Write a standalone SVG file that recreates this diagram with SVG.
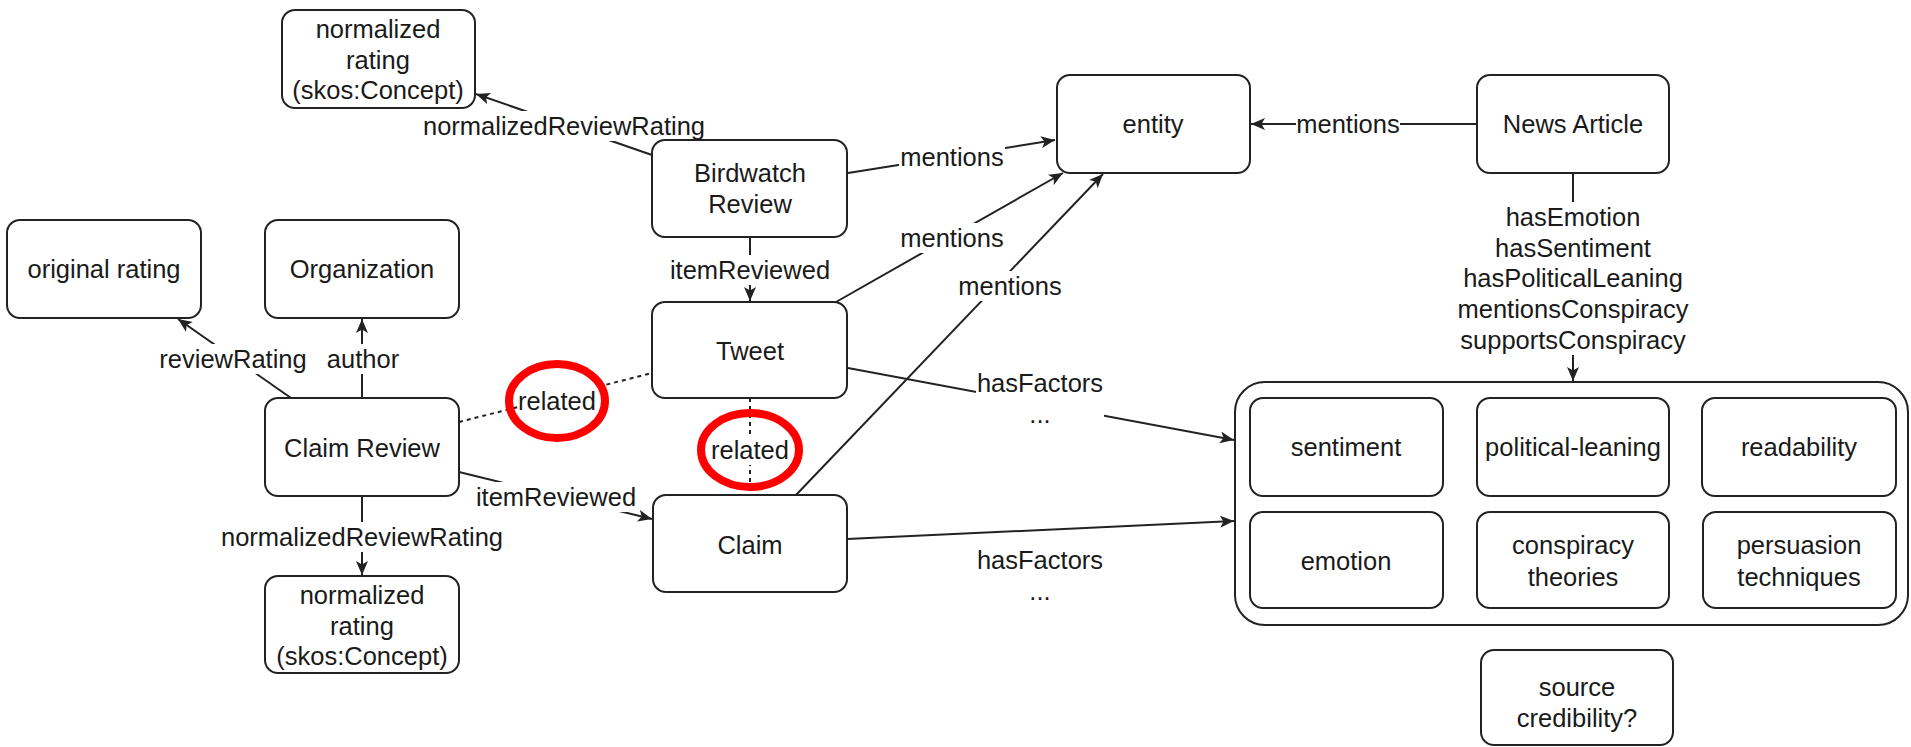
<svg xmlns="http://www.w3.org/2000/svg" width="1911" height="747" viewBox="0 0 1911 747">
<style>
.box{fill:#fff;stroke:#222;stroke-width:2}
.grp{fill:#fff;stroke:#222;stroke-width:2}
.edge{fill:none;stroke:#222;stroke-width:2}
.dash{fill:none;stroke:#222;stroke-width:2;stroke-dasharray:4 4}
.t{font-family:"Liberation Sans",Arial,sans-serif;font-size:25.5px;fill:#1a1a1a;text-anchor:middle;dominant-baseline:central}
.bg{fill:#fff}
.hl{fill:none;stroke:#ff0000;stroke-width:8}
</style>
<defs>
<marker id="arr" viewBox="0 0 14 12" refX="14" refY="6" markerWidth="14" markerHeight="12" orient="auto" markerUnits="userSpaceOnUse">
<path d="M0,0 L14,6 L0,12 L3.5,6 Z" fill="#222"/>
</marker>
</defs>
<rect width="1911" height="747" fill="#fff"/>

<g id="connectors">
  <!-- Birdwatch -> normalized rating (top) -->
  <line class="edge" x1="652" y1="155" x2="476" y2="94" marker-end="url(#arr)"/>
  <rect class="bg" x="422" y="111" width="285" height="30"/>
  <text class="t" x="564" y="126">normalizedReviewRating</text>
  <!-- Birdwatch -> entity -->
  <line class="edge" x1="848" y1="173" x2="1055" y2="140" marker-end="url(#arr)"/>
  <rect class="bg" x="899" y="142" width="106" height="30"/>
  <text class="t" x="952" y="157">mentions</text>
  <!-- Birdwatch -> Tweet -->
  <line class="edge" x1="750" y1="237" x2="750" y2="301" marker-end="url(#arr)"/>
  <rect class="bg" x="669" y="255" width="162" height="30"/>
  <text class="t" x="750" y="270">itemReviewed</text>
  <!-- Tweet -> entity -->
  <line class="edge" x1="836" y1="302" x2="1063" y2="173" marker-end="url(#arr)"/>
  <rect class="bg" x="899" y="223" width="106" height="30"/>
  <text class="t" x="952" y="238">mentions</text>
  <!-- Claim -> entity -->
  <line class="edge" x1="796" y1="495" x2="1103" y2="174" marker-end="url(#arr)"/>
  <rect class="bg" x="957" y="271" width="106" height="30"/>
  <text class="t" x="1010" y="286">mentions</text>
  <!-- News Article -> entity -->
  <line class="edge" x1="1477" y1="124" x2="1251" y2="124" marker-end="url(#arr)"/>
  <rect class="bg" x="1296" y="109" width="104" height="30"/>
  <text class="t" x="1348" y="124">mentions</text>
  <!-- News Article -> factors group -->
  <line class="edge" x1="1573" y1="173" x2="1573" y2="381" marker-end="url(#arr)"/>
  <rect class="bg" x="1457" y="202" width="233" height="153"/>
  <text class="t" x="1573" y="217">hasEmotion</text>
  <text class="t" x="1573" y="248">hasSentiment</text>
  <text class="t" x="1573" y="278">hasPoliticalLeaning</text>
  <text class="t" x="1573" y="309">mentionsConspiracy</text>
  <text class="t" x="1573" y="340">supportsConspiracy</text>
  <!-- Claim Review -> original rating -->
  <line class="edge" x1="291" y1="398" x2="178" y2="319" marker-end="url(#arr)"/>
  <rect class="bg" x="159" y="344" width="148" height="30"/>
  <text class="t" x="233" y="359">reviewRating</text>
  <!-- Claim Review -> Organization -->
  <line class="edge" x1="362" y1="398" x2="362" y2="319" marker-end="url(#arr)"/>
  <rect class="bg" x="326" y="344" width="74" height="30"/>
  <text class="t" x="363" y="359">author</text>
  <!-- Claim Review - Tweet related -->
  <line class="dash" x1="459" y1="422" x2="652" y2="373"/>
  <rect class="bg" x="518" y="386" width="80" height="30"/>
  <text class="t" x="557" y="401">related</text>
  <!-- Tweet - Claim related -->
  <line class="dash" x1="750" y1="398" x2="750" y2="495"/>
  <rect class="bg" x="710" y="435" width="80" height="30"/>
  <text class="t" x="750" y="450">related</text>
  <!-- Claim Review -> Claim -->
  <line class="edge" x1="459" y1="472" x2="652" y2="519" marker-end="url(#arr)"/>
  <rect class="bg" x="475" y="482" width="162" height="30"/>
  <text class="t" x="556" y="497">itemReviewed</text>
  <!-- Claim Review -> normalized rating (bottom) -->
  <line class="edge" x1="362" y1="496" x2="362" y2="575" marker-end="url(#arr)"/>
  <rect class="bg" x="220" y="522" width="284" height="30"/>
  <text class="t" x="362" y="537">normalizedReviewRating</text>
  <!-- Tweet -> factors -->
  <line class="edge" x1="848" y1="368" x2="1234" y2="440" marker-end="url(#arr)"/>
  <rect class="bg" x="976" y="369" width="128" height="61"/>
  <text class="t" x="1040" y="383">hasFactors</text>
  <text class="t" x="1040" y="414">...</text>
  <!-- Claim -> factors -->
  <line class="edge" x1="847" y1="539" x2="1234" y2="521" marker-end="url(#arr)"/>
  <rect class="bg" x="976" y="546" width="128" height="61"/>
  <text class="t" x="1040" y="560">hasFactors</text>
  <text class="t" x="1040" y="591">...</text>
</g>

<g id="node-normalized-rating-top">
  <rect class="box" x="282" y="10" width="193" height="98" rx="13"/>
  <text class="t" x="378" y="29">normalized</text>
  <text class="t" x="378" y="60">rating</text>
  <text class="t" x="378" y="90">(skos:Concept)</text>
</g>
<g id="node-original-rating">
  <rect class="box" x="7" y="220" width="194" height="98" rx="13"/>
  <text class="t" x="104" y="269">original rating</text>
</g>
<g id="node-organization">
  <rect class="box" x="265" y="220" width="194" height="98" rx="13"/>
  <text class="t" x="362" y="269">Organization</text>
</g>
<g id="node-birdwatch-review">
  <rect class="box" x="652" y="140" width="195" height="97" rx="13"/>
  <text class="t" x="750" y="173">Birdwatch</text>
  <text class="t" x="750" y="204">Review</text>
</g>
<g id="node-tweet">
  <rect class="box" x="652" y="302" width="195" height="96" rx="13"/>
  <text class="t" x="750" y="351">Tweet</text>
</g>
<g id="node-claim-review">
  <rect class="box" x="265" y="398" width="194" height="98" rx="13"/>
  <text class="t" x="362" y="448">Claim Review</text>
</g>
<g id="node-claim">
  <rect class="box" x="653" y="495" width="194" height="97" rx="13"/>
  <text class="t" x="750" y="545">Claim</text>
</g>
<g id="node-normalized-rating-bottom">
  <rect class="box" x="265" y="576" width="194" height="97" rx="13"/>
  <text class="t" x="362" y="595">normalized</text>
  <text class="t" x="362" y="626">rating</text>
  <text class="t" x="362" y="656">(skos:Concept)</text>
</g>
<g id="node-entity">
  <rect class="box" x="1057" y="75" width="193" height="98" rx="13"/>
  <text class="t" x="1153" y="124">entity</text>
</g>
<g id="node-news-article">
  <rect class="box" x="1477" y="75" width="192" height="98" rx="13"/>
  <text class="t" x="1573" y="124">News Article</text>
</g>
<g id="node-factors">
  <rect class="grp" x="1235" y="382" width="673" height="243" rx="30"/>
</g>
<g id="node-sentiment">
  <rect class="box" x="1250" y="398" width="193" height="98" rx="13"/>
  <text class="t" x="1346" y="447">sentiment</text>
</g>
<g id="node-political-leaning">
  <rect class="box" x="1477" y="398" width="192" height="98" rx="13"/>
  <text class="t" x="1573" y="447">political-leaning</text>
</g>
<g id="node-readability">
  <rect class="box" x="1702" y="398" width="194" height="98" rx="13"/>
  <text class="t" x="1799" y="447">readability</text>
</g>
<g id="node-emotion">
  <rect class="box" x="1250" y="512" width="193" height="96" rx="13"/>
  <text class="t" x="1346" y="561">emotion</text>
</g>
<g id="node-conspiracy-theories">
  <rect class="box" x="1477" y="512" width="192" height="96" rx="13"/>
  <text class="t" x="1573" y="545">conspiracy</text>
  <text class="t" x="1573" y="577">theories</text>
</g>
<g id="node-persuasion-techniques">
  <rect class="box" x="1703" y="512" width="193" height="96" rx="13"/>
  <text class="t" x="1799" y="545">persuasion</text>
  <text class="t" x="1799" y="577">techniques</text>
</g>
<g id="node-source-credibility">
  <rect class="box" x="1481" y="650" width="192" height="95" rx="13"/>
  <text class="t" x="1577" y="687">source</text>
  <text class="t" x="1577" y="718">credibility?</text>
</g>

<g id="highlights">
  <ellipse class="hl" cx="557" cy="401" rx="48" ry="37"/>
  <ellipse class="hl" cx="750" cy="450" rx="49" ry="37"/>
</g>
</svg>
